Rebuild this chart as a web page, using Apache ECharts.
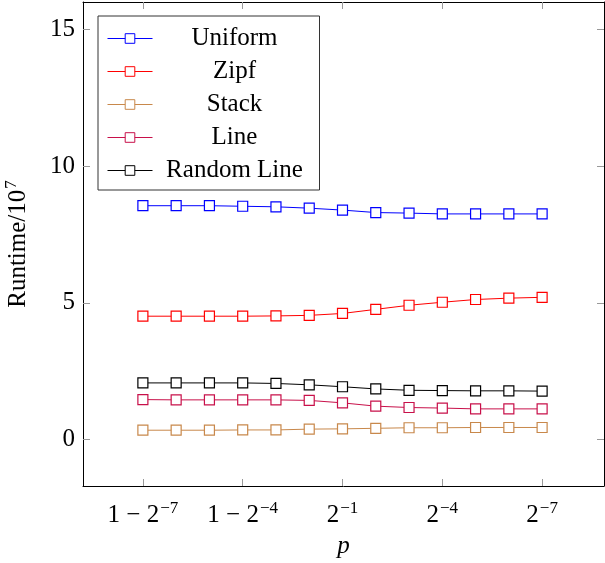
<!DOCTYPE html>
<html><head><meta charset="utf-8">
<script src="https://cdn.jsdelivr.net/npm/echarts@6/dist/echarts.min.js"></script>
<style>html,body{margin:0;padding:0;background:#fff}#c{width:605px;height:563px}</style>
</head><body><div id="c"></div>
<script>
const tickIndices = [0, 3, 6, 9, 12];
const tickLabels = {0:['1 − 2','−7'],3:['1 − 2','−4'],6:['2','−1'],9:['2','−4'],12:['2','−7']};
const yTicks = [0, 5, 10, 15];
const uniform = [8.55,8.55,8.55,8.53,8.51,8.46,8.39,8.30,8.28,8.25,8.25,8.25,8.25];
const zipf = [4.51,4.51,4.51,4.51,4.52,4.54,4.61,4.76,4.91,5.02,5.12,5.17,5.20];
const stack = [0.34,0.34,0.34,0.35,0.35,0.38,0.39,0.41,0.43,0.43,0.44,0.44,0.44];
const line = [1.46,1.45,1.45,1.45,1.45,1.43,1.34,1.22,1.17,1.15,1.12,1.12,1.12];
const randomLine = [2.07,2.07,2.07,2.07,2.05,2.00,1.93,1.85,1.80,1.79,1.78,1.78,1.77];

const FONT = '"Liberation Serif","DejaVu Serif",serif';
const names = ['Uniform','Zipf','Stack','Line','Random Line'];
const colors = ['#0000ff','#ff0000','#c8884b','#c8104a','#000000'];
const datasets = [uniform, zipf, stack, line, randomLine];

const chart = echarts.init(document.getElementById('c'), null, {renderer:'canvas'});
const xCommon = {type:'value', min:-1.8, max:13.86, splitLine:{show:false},
  axisLine:{show:true, onZero:false, lineStyle:{color:'#000', width:1}}};
const yCommon = {type:'value', min:-1.7, max:16, splitLine:{show:false},
  axisLine:{show:true, onZero:false, lineStyle:{color:'#000', width:1}}};
const tickStyle = {show:true, inside:true, length:7, lineStyle:{color:'#999', width:1}};

chart.setOption({
  animation:false,
  backgroundColor:'#fff',
  grid:{left:83, right:1, top:2, bottom:77, containLabel:false, outerBoundsMode:'none'},
  legend:{
    orient:'vertical', left:98, top:16,
    data:names,
    backgroundColor:'#fff', borderColor:'#333', borderWidth:1,
    padding:[10,8,7,9], itemGap:8, itemWidth:45, itemHeight:12,
    itemStyle:{borderWidth:1},
    lineStyle:{width:1},
    formatter: n => '{a|' + n + '}',
    textStyle:{fontFamily:FONT, fontSize:25, color:'#000',
      rich:{a:{fontFamily:FONT, fontSize:25, width:154, align:'center', lineHeight:22}}}
  },
  xAxis:[
    Object.assign({}, xCommon, {
      position:'bottom',
      name:'p', nameLocation:'middle', nameGap:48,
      nameTextStyle:{fontFamily:FONT, fontSize:25, fontStyle:'italic', color:'#000'},
      axisTick:Object.assign({}, tickStyle, {customValues:tickIndices}),
      axisLabel:{show:true, customValues:tickIndices, margin:14, color:'#000',
        fontFamily:FONT, fontSize:25,
        formatter: v => { const t = tickLabels[Math.round(v)]; return t ? '{b|' + t[0] + '}{s|' + t[1] + '}' : ''; },
        rich:{b:{fontFamily:FONT, fontSize:25, color:'#000', verticalAlign:'bottom', lineHeight:28},
              s:{fontFamily:FONT, fontSize:17, color:'#000', verticalAlign:'top', lineHeight:28, padding:[0,0,10,1]}}}
    }),
    Object.assign({}, xCommon, {
      position:'top',
      axisTick:Object.assign({}, tickStyle, {customValues:tickIndices}),
      axisLabel:{show:false}
    })
  ],
  yAxis:[
    Object.assign({}, yCommon, {
      position:'left',
      name:'{r|Runtime/10}{s|7}', nameLocation:'middle', nameGap:52, nameRotate:90,
      nameTextStyle:{fontFamily:FONT, fontSize:25, color:'#000',
        rich:{r:{fontFamily:FONT, fontSize:25, color:'#000', verticalAlign:'bottom', lineHeight:28},
              s:{fontFamily:FONT, fontSize:17, color:'#000', verticalAlign:'top', lineHeight:28, padding:[0,0,10,1]}}},
      axisTick:Object.assign({}, tickStyle, {customValues:yTicks}),
      axisLabel:{show:true, customValues:yTicks, margin:8, color:'#000', fontFamily:FONT, fontSize:25}
    }),
    Object.assign({}, yCommon, {
      position:'right',
      axisTick:Object.assign({}, tickStyle, {customValues:yTicks}),
      axisLabel:{show:false}
    })
  ],
  series: names.map((n, i) => ({
    name:n, type:'line', xAxisIndex:0, yAxisIndex:0,
    data: datasets[i].map((v, k) => [k, v]),
    symbol:'rect', symbolSize:10, showSymbol:true,
    itemStyle:{color:'#fff', borderColor:colors[i], borderWidth:1.2},
    lineStyle:{color:colors[i], width:1},
    emphasis:{disabled:true}
  }))
});
</script></body></html>
